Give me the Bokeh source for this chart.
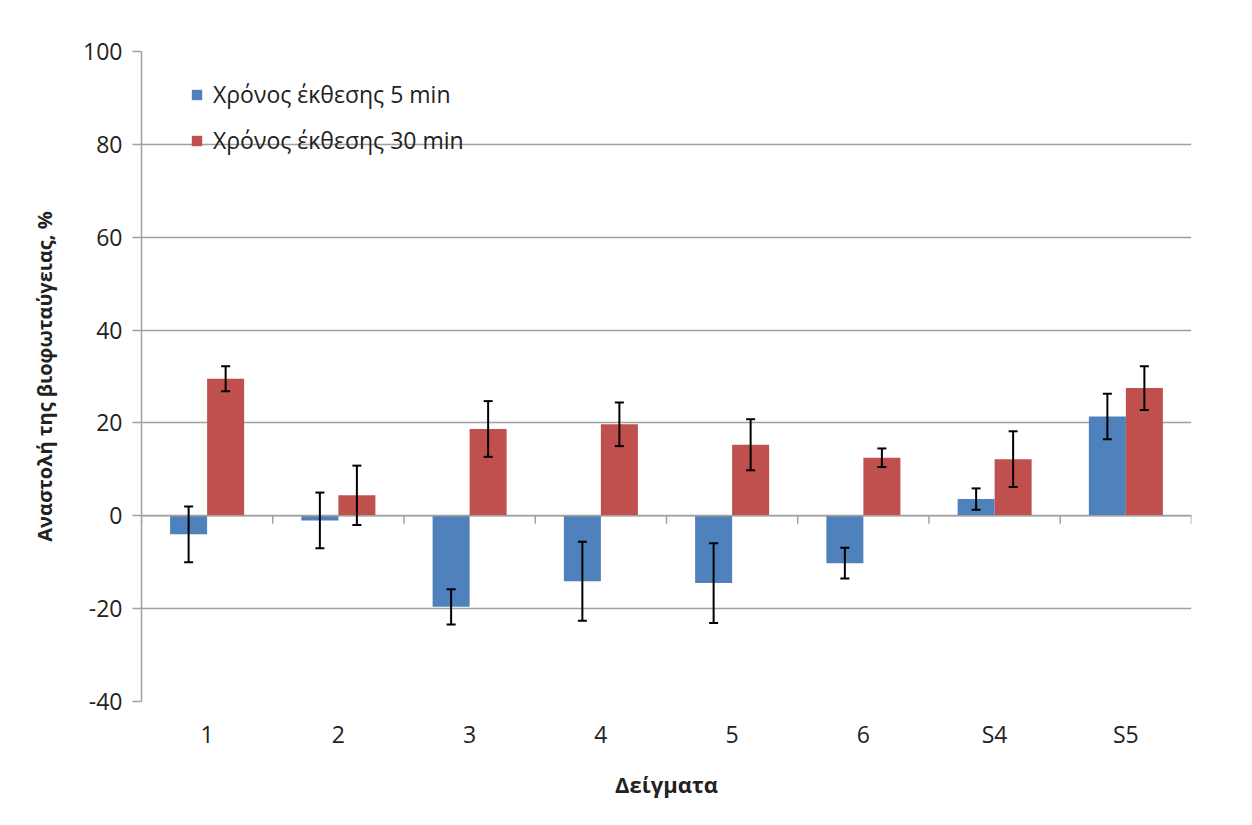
from math import pi
from bokeh.plotting import figure
from bokeh.models import (ColumnDataSource, Range1d, FactorRange, FixedTicker, Whisker,
                          TeeHead, Legend, LegendItem, Span)
from bokeh.transform import dodge
from bokeh.embed import file_html
from bokeh.resources import INLINE

categories = ["1", "2", "3", "4", "5", "6", "S4", "S5"]
t5 = [-4.0, -1.0, -19.6, -14.1, -14.5, -10.2, 3.6, 21.4]
t5_err = [6.0, 6.0, 3.8, 8.5, 8.6, 3.3, 2.3, 4.9]
t30 = [29.5, 4.4, 18.7, 19.7, 15.3, 12.5, 12.2, 27.5]
t30_err = [2.7, 6.4, 6.0, 4.7, 5.5, 2.0, 6.0, 4.7]
y_ticks = [-40, -20, 0, 20, 40, 60, 80, 100]

label5 = "Χρόνος έκθεσης 5 min"
label30 = "Χρόνος έκθεσης 30 min"
x_title = "Δείγματα"
y_title = "Αναστολή της βιοφωταύγειας, %"

BLUE = "#4f81bd"
RED = "#c0504d"
GRID = "#a0a0a0"
FONT = "Open Sans"
TXT = "#222222"

src = ColumnDataSource(dict(
    cat=categories,
    t5=t5, t5_lo=[v - e for v, e in zip(t5, t5_err)], t5_hi=[v + e for v, e in zip(t5, t5_err)],
    t30=t30, t30_lo=[v - e for v, e in zip(t30, t30_err)], t30_hi=[v + e for v, e in zip(t30, t30_err)],
))
last_src = ColumnDataSource(dict(cat=categories[-1:]))

p = figure(width=1244, height=817, output_backend="svg", toolbar_location=None,
           x_range=FactorRange(factors=categories), y_range=Range1d(-40, 100),
           min_border_left=141, min_border_right=53, min_border_top=51, min_border_bottom=116)
p.outline_line_color = None
p.background_fill_color = "white"
p.border_fill_color = "white"

bw = 0.282
r5 = p.vbar(x=dodge("cat", -bw / 2, range=p.x_range), top="t5", bottom=0, width=bw,
            source=src, fill_color=BLUE, line_color=None)
r30 = p.vbar(x=dodge("cat", bw / 2, range=p.x_range), top="t30", bottom=0, width=bw,
             source=src, fill_color=RED, line_color=None)

# horizontal axis line at zero with category boundary ticks
p.add_layout(Span(location=0, dimension="width", line_color=GRID, line_width=1.5))
p.ray(x=dodge("cat", -0.5, range=p.x_range), y=0, length=8, angle=-pi / 2,
      length_units="screen", source=src, line_color=GRID, line_width=1.5)
p.ray(x=dodge("cat", 0.5, range=p.x_range), y=0, length=8, angle=-pi / 2,
      length_units="screen", source=last_src, line_color=GRID, line_width=1.5)

for off, lo, hi in [(-bw / 2, "t5_lo", "t5_hi"), (bw / 2, "t30_lo", "t30_hi")]:
    w = Whisker(base=dodge("cat", off, range=p.x_range), lower=lo, upper=hi, source=src,
                line_color="black", line_width=2, level="overlay",
                upper_head=TeeHead(size=9, line_color="black", line_width=2),
                lower_head=TeeHead(size=9, line_color="black", line_width=2))
    p.add_layout(w)

# grids
p.xgrid.grid_line_color = None
p.ygrid.ticker = FixedTicker(ticks=y_ticks)
p.ygrid.grid_line_color = GRID
p.ygrid.grid_line_width = 1.5

# y axis
p.yaxis.ticker = FixedTicker(ticks=y_ticks)
p.yaxis.major_label_overrides = {t: str(t) for t in y_ticks}
p.yaxis.axis_line_color = GRID
p.yaxis.axis_line_width = 1.5
p.yaxis.major_tick_line_color = GRID
p.yaxis.major_tick_line_width = 1.5
p.yaxis.major_tick_out = 9
p.yaxis.major_tick_in = 0
p.yaxis.minor_tick_line_color = None
p.yaxis.major_label_text_font = FONT
p.yaxis.major_label_text_font_size = "23px"
p.yaxis.major_label_text_color = TXT
p.yaxis.major_label_standoff = 10
p.yaxis.axis_label = y_title
p.yaxis.axis_label_text_font = FONT
p.yaxis.axis_label_text_font_size = "20px"
p.yaxis.axis_label_text_font_style = "bold"
p.yaxis.axis_label_text_color = TXT
p.yaxis.axis_label_standoff = 22

# x axis
p.xaxis.axis_line_color = None
p.xaxis.major_tick_line_color = None
p.xaxis.minor_tick_line_color = None
p.xaxis.major_label_text_font = FONT
p.xaxis.major_label_text_font_size = "23px"
p.xaxis.major_label_text_color = TXT
p.xaxis.major_label_standoff = 10
p.xaxis.axis_label = x_title
p.xaxis.axis_label_text_font = FONT
p.xaxis.axis_label_text_font_size = "22px"
p.xaxis.axis_label_text_font_style = "bold"
p.xaxis.axis_label_text_color = TXT
p.xaxis.axis_label_standoff = 16

legend = Legend(items=[LegendItem(label=label5, renderers=[r5]),
                       LegendItem(label=label30, renderers=[r30])],
                location=(49, 545), orientation="vertical",
                label_text_font=FONT, label_text_font_size="23px", label_text_color=TXT,
                glyph_width=13, glyph_height=13, label_height=20, spacing=14,
                padding=0, margin=0, label_standoff=10,
                border_line_color=None, background_fill_alpha=0)
p.add_layout(legend)

open("out.html", "w").write(file_html(p, INLINE))
